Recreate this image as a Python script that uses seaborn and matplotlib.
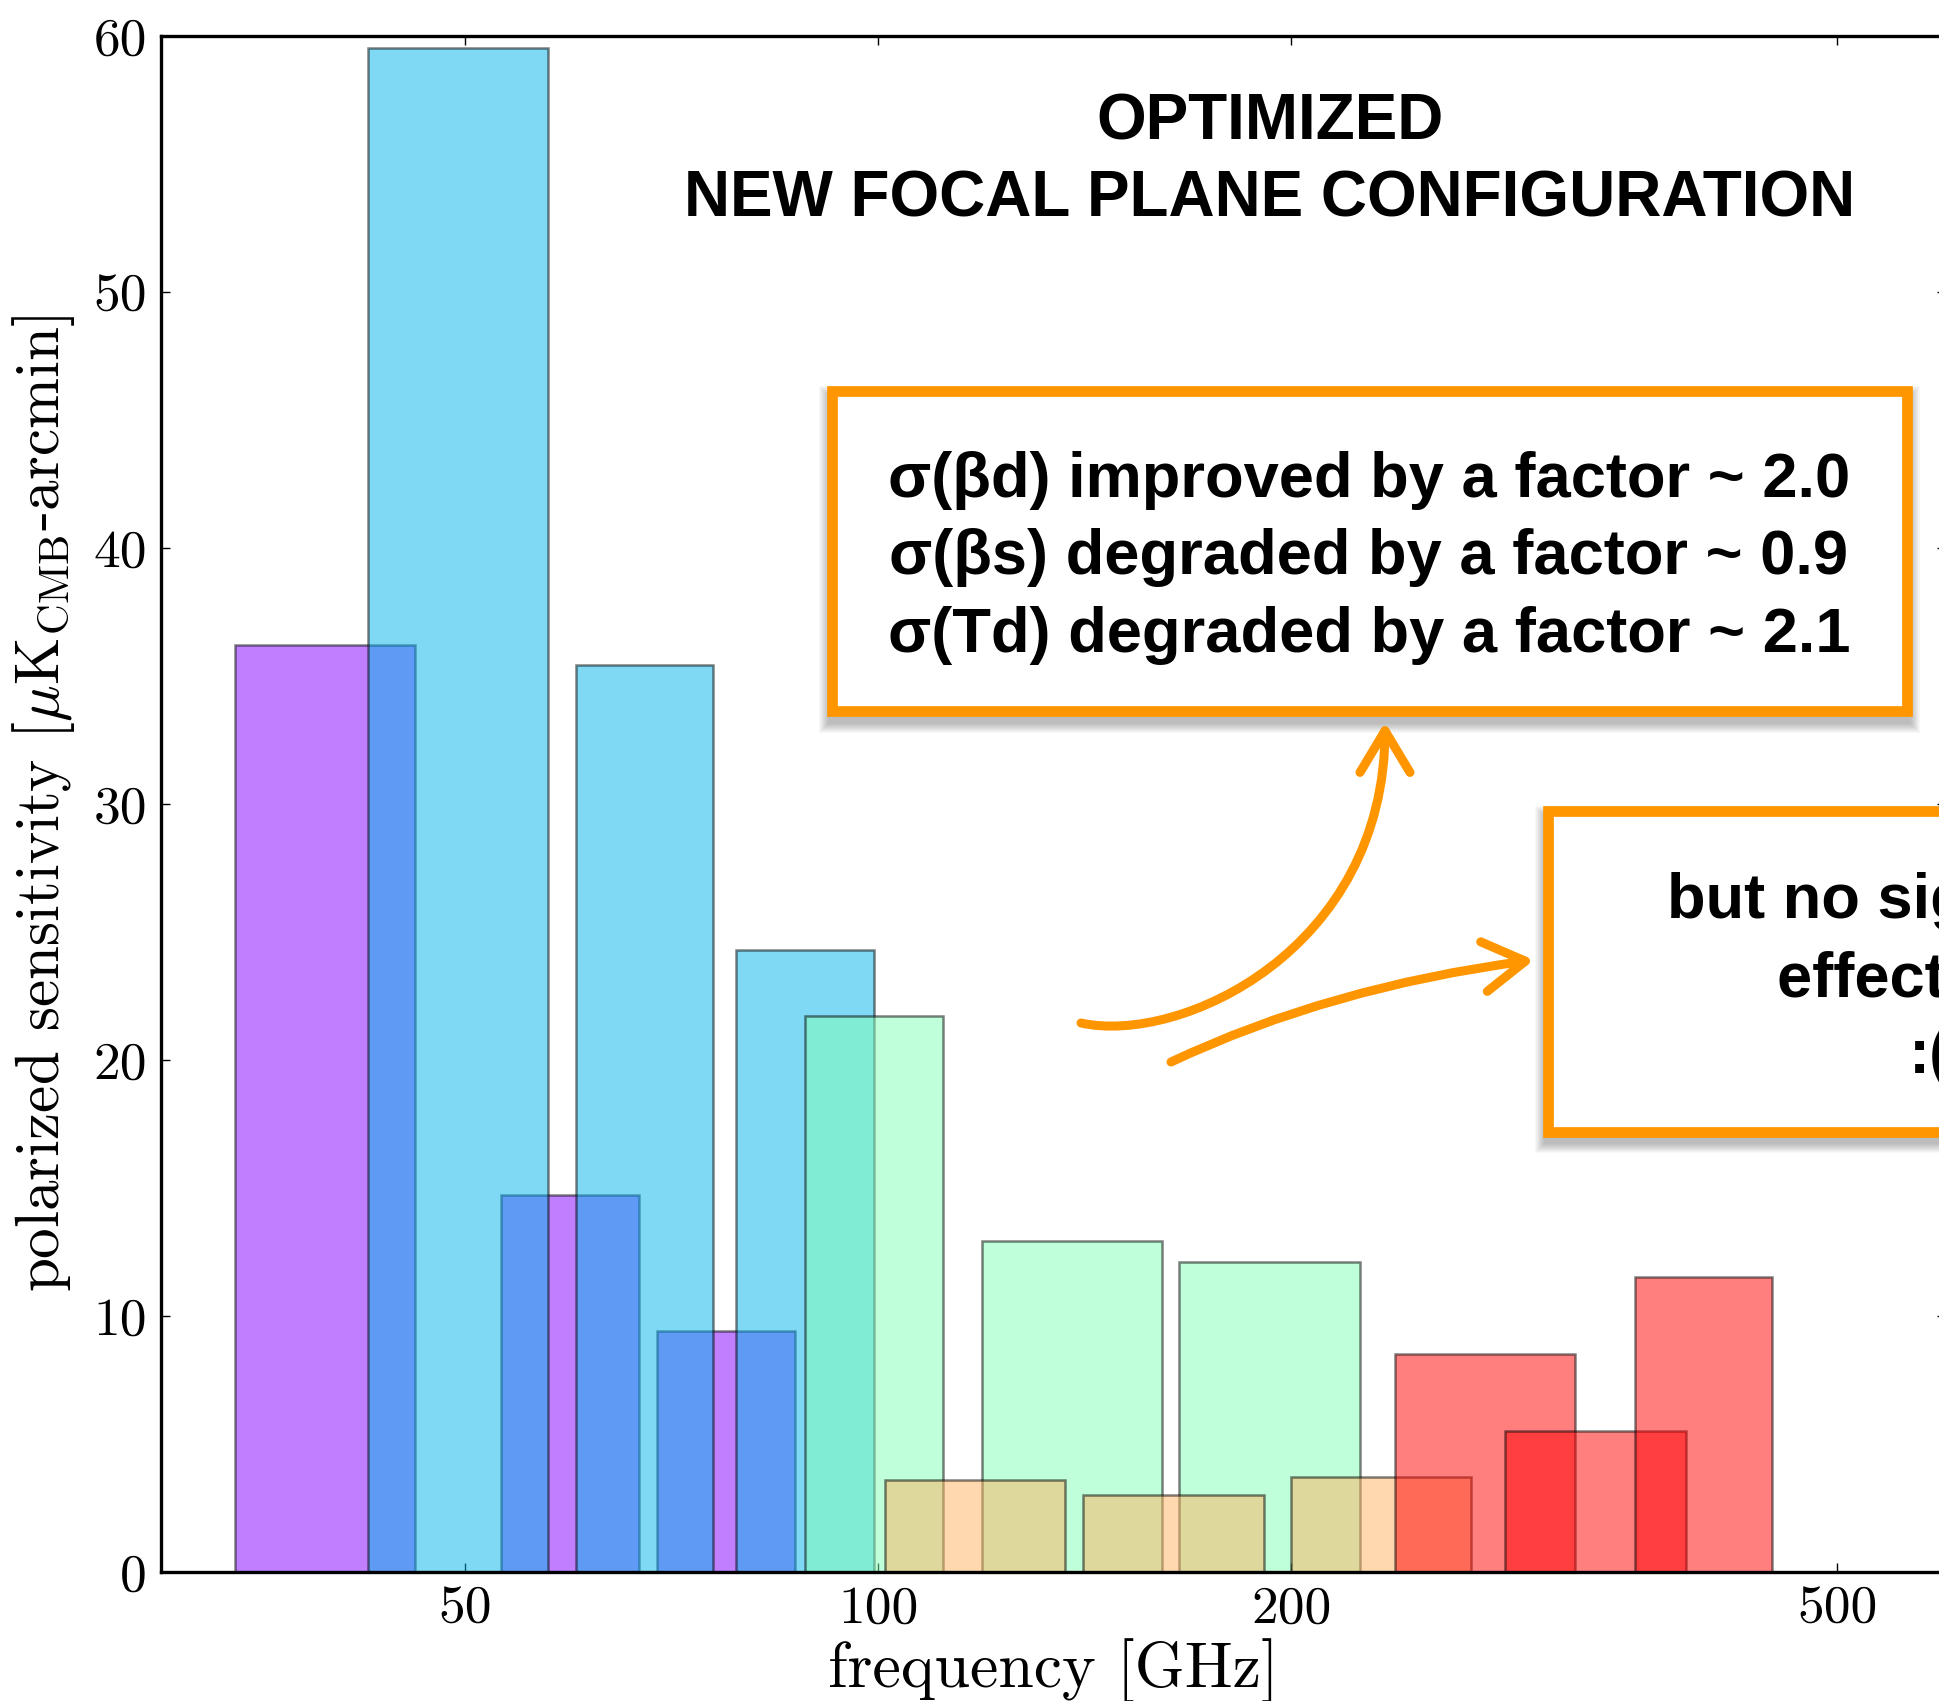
import numpy as np
import pandas as pd
import matplotlib
matplotlib.use("Agg")
import matplotlib as mpl
import matplotlib.pyplot as plt
from matplotlib.patches import Rectangle, FancyArrowPatch, ArrowStyle
from matplotlib.path import Path
from matplotlib.ticker import NullLocator
import seaborn as sns

# Frequency bands: centre frequency [GHz], fractional bandwidth, polarized sensitivity
band_freq = [40, 50, 60, 68, 78, 89, 100, 119, 140, 166, 195, 235, 280, 337, 402]
band_frac_width = [0.30, 0.30, 0.23, 0.23, 0.23, 0.23, 0.23,
                   0.30, 0.30, 0.30, 0.30, 0.30, 0.30, 0.30, 0.23]
band_sens = [36.2, 59.5, 14.7, 35.4, 9.4, 24.3, 21.7,
             3.6, 12.9, 3.0, 12.1, 3.7, 8.5, 5.5, 11.5]
band_pixel = ["LF1", "LF2", "LF1", "LF2", "LF1", "LF2", "MF1",
              "MF2", "MF1", "MF2", "MF1", "MF2", "HF", "HF", "HF"]
pixel_order = ["LF1", "LF2", "MF1", "MF2", "HF"]

x_ticks = [50, 100, 200, 500]
x_tick_labels = ["50", "100", "200", "500"]
y_ticks = [0, 10, 20, 30, 40, 50, 60]
y_tick_labels = ["0", "10", "20", "30", "40", "50", "60"]

title_lines = ["OPTIMIZED", "NEW FOCAL PLANE CONFIGURATION"]
box1_lines = ["\u03c3(\u03b2d) improved by a factor ~ 2.0",
              "\u03c3(\u03b2s) degraded by a factor ~ 0.9",
              "\u03c3(Td) degraded by a factor ~ 2.1"]
box2_lines = ["but no significant", "effect on r", ":("]

ORANGE = "#ff9600"

sns.set_theme(style="ticks")
plt.rcParams["font.family"] = ["cmr10"]
plt.rcParams["mathtext.fontset"] = "cm"
plt.rcParams["axes.formatter.use_mathtext"] = True
plt.rcParams["axes.unicode_minus"] = False

W, H = 1940, 1701
fig = plt.figure(figsize=(W / 100, H / 100), dpi=100)
fig.patch.set_facecolor("white")


def fx(x):
    return x / W


def fy(y):
    return 1 - y / H


ax = fig.add_axes([fx(160.7), fy(1571.7), 1785.4 / W, 1536.0 / H])
ax.set_facecolor("white")
ax.set_xscale("log")

df = pd.DataFrame({"freq": band_freq, "frac": band_frac_width,
                   "sens": band_sens, "pixel": band_pixel})
df["lo"] = df["freq"] * (1 - df["frac"] / 2)
df["hi"] = df["freq"] * (1 + df["frac"] / 2)

colors = mpl.colormaps["rainbow"](np.linspace(0, 1, len(pixel_order)))

# one bar per band, spanning the band edges on the log frequency axis
for pix, col in zip(pixel_order, colors):
    for _, row in df[df["pixel"] == pix].iterrows():
        edges = [float(np.log10(row["lo"])), float(np.log10(row["hi"]))]
        sns.histplot(x=[row["freq"]], weights=[row["sens"]], bins=edges,
                     ax=ax, color=tuple(col), alpha=0.5,
                     edgecolor=(0, 0, 0, 0.5), linewidth=1.8)

ax.set_xlim(30, 600)
ax.set_ylim(0, 60)
ax.set_xticks(x_ticks, x_tick_labels)
ax.xaxis.set_minor_locator(NullLocator())
ax.set_yticks(y_ticks, y_tick_labels)
ax.yaxis.set_minor_locator(NullLocator())
ax.tick_params(which="both", direction="in", top=True, right=True,
               length=6.5, width=1.0, labelsize=38.5, pad=10, colors="black")
for sp in ax.spines.values():
    sp.set_linewidth(2.4)
    sp.set_color("black")

ax.set_xlabel("frequency [GHz]", fontsize=46, labelpad=4, color="black")
ax.set_ylabel(r"polarized sensitivity [$\mu$K$_{\rm CMB}$-arcmin]",
              fontsize=44, labelpad=12, color="black")

# title
for txt, base in zip(title_lines, [140, 216.7]):
    fig.text(fx(1270), fy(base), txt, ha="center", va="baseline",
             fontsize=46, fontweight="bold", family="Liberation Sans",
             color="black")


def framed_box(x0, y0, x1, y1, lines, cx, baselines):
    lw_px = 10.7
    ox0, oy0, ox1, oy1 = x0 - lw_px / 2, y0 - lw_px / 2, x1 + lw_px / 2, y1 + lw_px / 2
    # soft drop shadow, cast mostly downwards
    off = 6
    for k in range(1, 11):
        fig.add_artist(Rectangle((fx(ox0 - k + 2), fy(oy1 + k + off)),
                                 (ox1 - ox0 + 2 * k - 4) / W,
                                 (oy1 - oy0 + 2 * k - 4) / H,
                                 transform=fig.transFigure, facecolor="black",
                                 edgecolor="none", alpha=0.028, zorder=1))
    fig.add_artist(Rectangle((fx(x0), fy(y1)), (x1 - x0) / W, (y1 - y0) / H,
                             transform=fig.transFigure, facecolor="white",
                             edgecolor=ORANGE, linewidth=lw_px * 0.72,
                             joinstyle="miter", zorder=2))
    for txt, base in zip(lines, baselines):
        fig.text(fx(cx), fy(base), txt, ha="center", va="baseline",
                 fontsize=45.5, fontweight="bold", family="Liberation Sans",
                 color="black", zorder=3)


framed_box(832, 391, 1907, 711.5, box1_lines, 1369, [496.7, 574, 651.7])
framed_box(1548, 811, 2312, 1131.5, box2_lines, 1930, [918.3, 996.7, 1073])


def px_path(points, codes):
    return Path([(fx(x), fy(y)) for x, y in points], codes)


head = ArrowStyle("->", head_length=3.0, head_width=1.8)
arrow1 = px_path([(1081, 1023), (1180, 1045), (1385, 950), (1385, 722)],
                 [Path.MOVETO, Path.CURVE4, Path.CURVE4, Path.CURVE4])
arrow2 = px_path([(1171, 1062), (1330, 987), (1534, 960)],
                 [Path.MOVETO, Path.CURVE3, Path.CURVE3])
for p in (arrow1, arrow2):
    fig.add_artist(FancyArrowPatch(path=p, arrowstyle=head, mutation_scale=10,
                                   linewidth=6.5, color=ORANGE,
                                   transform=fig.transFigure, zorder=2))

fig.savefig("out.png", dpi=100, facecolor="white")
